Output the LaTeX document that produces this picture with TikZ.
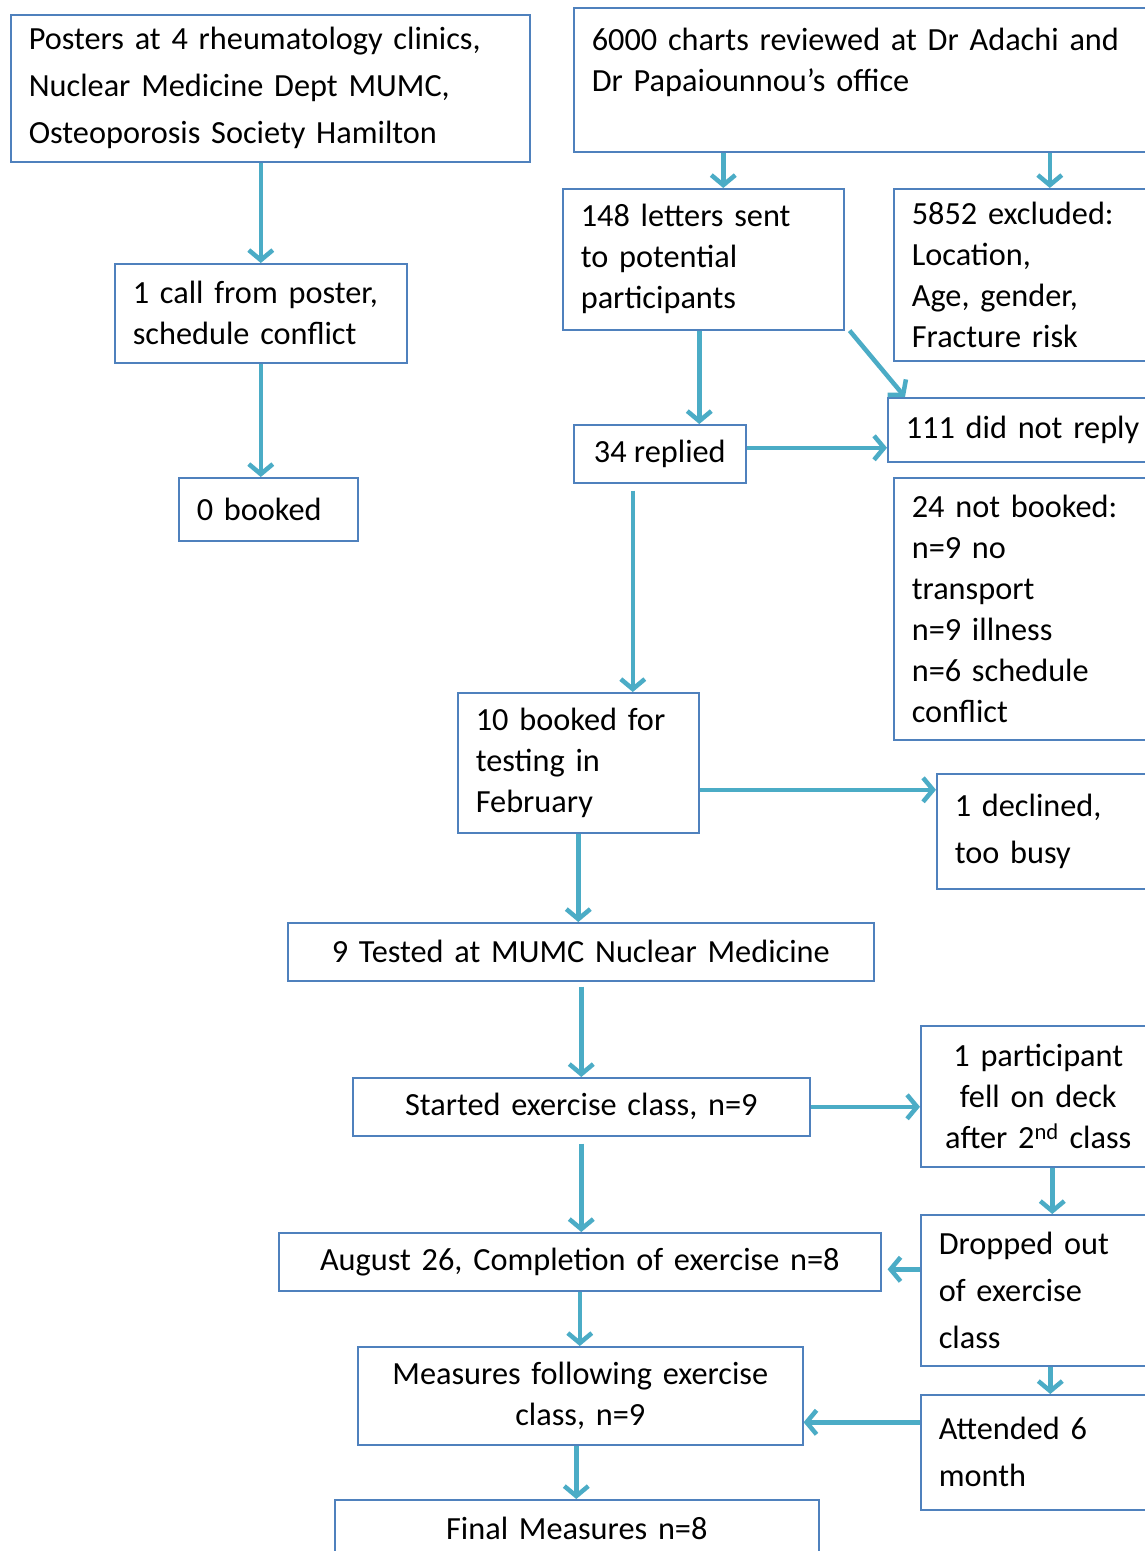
\documentclass[tikz,border=0pt]{standalone}
\usepackage{fontspec}
\setmainfont{Carlito}
\usepackage{tikz}
\usetikzlibrary{calc,arrows.meta}
\definecolor{boxblue}{HTML}{4F81BD}
\definecolor{arrowblue}{HTML}{4BACC6}

\begin{document}
\begin{tikzpicture}[x=1pt,y=-1pt,
  box/.style={draw=boxblue,line width=1.6pt,anchor=north west,inner xsep=18pt,inner ysep=0pt,align=left,font=\fontsize{32.3}{41}\selectfont},
  wide/.style={font=\fontsize{32.3}{47}\selectfont},
  arr/.style={draw=arrowblue,line width=4.5pt,-{Straight Barb[length=10pt,width=24pt]}}]
\useasboundingbox (0,0) rectangle (1145,1551);
\fill[white] (0,0) rectangle (1145,1551);
\clip (0,0) rectangle (1145,1551);
% left column
\node[box,wide,text width=483pt,minimum height=147pt](posters)at(10,14){Posters at 4 rheumatology clinics,\\Nuclear Medicine Dept MUMC,\\Osteoporosis Society Hamilton};
\node[box,text width=256pt,minimum height=99pt](call)at(114,263){1 call from poster,\\schedule conflict};
\node[box,text width=143pt,minimum height=63pt](booked0)at(178,477){0 booked};
% chart review
\node[box,text width=591pt,minimum height=144pt](charts)at(573,7){6000 charts reviewed at Dr Adachi and\\Dr Papaiounnou’s office\\\mbox{}};
\node[box,text width=245pt,minimum height=141pt](letters)at(562,188){148 letters sent\\to potential\\participants};
\node[box,text width=276pt,minimum height=172pt](excl)at(893,188){5852 excluded:\\Location,\\Age, gender,\\Fracture risk};
\node[box,minimum width=172pt,minimum height=58pt](replied)at(573,424){34 replied};
\node[box,text width=264pt,minimum height=64pt](noreply)at(887,397){111 did not reply};
\node[box,text width=276pt,minimum height=262pt](notbk)at(893,477){24 not booked:\\n=9 no\\transport\\n=9 illness\\n=6 schedule\\conflict};
\node[box,text width=205pt,minimum height=140pt](tenbk)at(457,692){10 booked for\\testing in\\February};
\node[box,wide,text width=224pt,minimum height=115pt](declined)at(936,773){1 declined,\\too busy};
% testing and exercise
\node[box,align=center,text width=550pt,minimum height=58pt](tested)at(287,922){9 Tested at MUMC Nuclear Medicine};
\node[box,align=center,text width=421pt,minimum height=58pt](started)at(352,1077){Started exercise class, n=9};
\node[box,align=center,text width=199pt,minimum height=141pt](fell)at(920,1025){1 participant\\fell on deck\\after 2\textsuperscript{nd} class};
\node[box,align=center,text width=566pt,minimum height=58pt](august)at(278,1232){August 26, Completion of exercise n=8};
\node[box,wide,text width=228pt,minimum height=151pt](dropped)at(920,1214){Dropped out\\of exercise\\class};
\node[box,align=center,text width=409pt,minimum height=98pt](measures)at(357,1346){Measures following exercise\\class, n=9};
\node[box,wide,text width=228pt,minimum height=115pt](attended)at(920,1394){Attended 6\\month};
\node[box,align=center,text width=448pt,minimum height=58pt](final)at(334,1499){Final Measures n=8};
% arrows
\draw[arr] (posters.south -| call.north) -- (call.north);
\draw[arr] (call.south) -- (call.south |- booked0.north);
\draw[arr] ([xshift=20pt]letters.north |- charts.south) -- ([xshift=20pt]letters.north);
\draw[arr] (excl.north |- charts.south) -- (excl.north);
\draw[arr] ([xshift=-4pt]letters.south) -- ([xshift=-4pt]letters.south |- replied.north);
\draw[arr] ([xshift=5pt]letters.south east) -- ([xshift=18pt]noreply.north west);
\draw[arr] ([yshift=6pt]replied.east) -- ([yshift=6pt]replied.east -| noreply.west);
\draw[arr] ([shift={(-27pt,-7pt)}]replied.south) -- ([xshift=-27pt]replied.south |- tenbk.north);
\draw[arr] ([yshift=-27pt]tenbk.east) -- ([yshift=-27pt]tenbk.east -| declined.west);
\draw[arr] (tenbk.south) -- (tenbk.south |- tested.north);
\draw[arr] ([yshift=-5pt]tested.south -| started.north) -- (started.north);
\draw[arr] (started.east) -- (started.east -| fell.west);
\draw[arr] ([yshift=-7pt]started.south) -- (started.south |- august.north);
\draw[arr] ([xshift=14pt]fell.south) -- ([xshift=14pt]fell.south |- dropped.north);
\draw[arr] ([yshift=21pt]dropped.west) -- ([shift={(6pt,21pt)}]dropped.west -| august.east);
\draw[arr] (august.south) -- (august.south |- measures.north);
\draw[arr] ([xshift=12pt]fell.south |- dropped.south) -- ([xshift=12pt]fell.south |- attended.north);
\draw[arr] ([yshift=30pt]attended.west) -- ([yshift=30pt]attended.west -| measures.east);
\draw[arr] ([xshift=-4pt]measures.south) -- ([xshift=-4pt]measures.south |- final.north);
\end{tikzpicture}
\end{document}
